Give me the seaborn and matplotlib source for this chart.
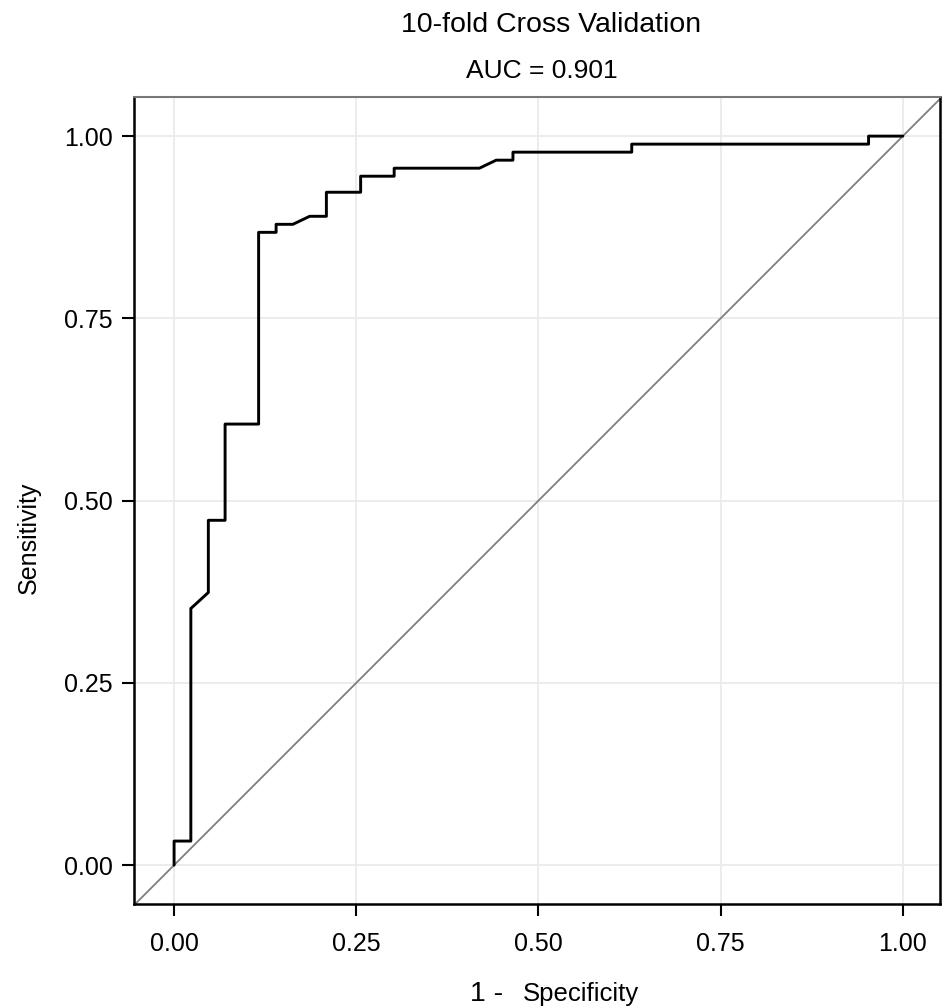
import pandas as pd
import seaborn as sns
import matplotlib.pyplot as plt

# ROC curve points (1 - specificity, sensitivity)
fpr = [0.000, 0.000, 0.023, 0.023, 0.047, 0.047, 0.070, 0.070, 0.116, 0.116,
       0.140, 0.140, 0.163, 0.186, 0.209, 0.209, 0.256, 0.256, 0.302, 0.302,
       0.419, 0.442, 0.465, 0.465, 0.628, 0.628, 0.953, 0.953, 1.000]
tpr = [0.000, 0.033, 0.033, 0.352, 0.374, 0.473, 0.473, 0.605, 0.605, 0.868,
       0.868, 0.879, 0.879, 0.890, 0.890, 0.923, 0.923, 0.945, 0.945, 0.956,
       0.956, 0.967, 0.967, 0.978, 0.978, 0.989, 0.989, 1.000, 1.000]
ticks = [0.00, 0.25, 0.50, 0.75, 1.00]
tick_labels = ["0.00", "0.25", "0.50", "0.75", "1.00"]

df = pd.DataFrame({"fpr": fpr, "tpr": tpr})

sns.set_style("white")
plt.rcParams['font.family'] = ['Liberation Sans', 'DejaVu Sans']
plt.rcParams['text.color'] = 'black'

fig = plt.figure(figsize=(9.45, 10.07), dpi=100)
ax = fig.add_axes([0.1418, 0.1018, 0.8529, 0.8014])

# reference diagonal across whole panel
ax.axline((0, 0), slope=1, color="#7f7f7f", lw=1.3, zorder=2)

sns.lineplot(data=df, x="fpr", y="tpr", sort=False, estimator=None,
             color="black", lw=2.1, ax=ax, zorder=3)

ax.set_xlim(-0.055, 1.051)
ax.set_ylim(-0.054, 1.053)
ax.set_xticks(ticks)
ax.set_yticks(ticks)
ax.set_xticklabels(tick_labels, fontsize=18)
ax.set_yticklabels(tick_labels, fontsize=18)
ax.grid(True, color="#ebebeb", lw=1.3)
ax.set_axisbelow(True)
ax.tick_params(axis="both", direction="out", length=8.6, width=1.5,
               colors="black", labelcolor="black", bottom=True, left=True)
ax.tick_params(axis="x", pad=11)
ax.tick_params(axis="y", pad=6.5)

for side in ["left", "bottom", "right"]:
    ax.spines[side].set_color("black")
    ax.spines[side].set_linewidth(1.8)
ax.spines["top"].set_color("#777777")
ax.spines["top"].set_linewidth(1.5)

ax.set_xlabel("")
ax.set_ylabel("")

fig.text(0.0307, 0.4657, "Sensitivity", fontsize=18, rotation=90,
         ha="center", va="center")
fig.text(0.5836, 0.9682, "10-fold Cross Validation", fontsize=20.5,
         ha="center", va="baseline")
fig.text(0.5735, 0.9225, "AUC = 0.901", fontsize=19,
         ha="center", va="baseline")
fig.text(0.4974, 0.0055, "1 -", fontsize=20.5, ha="left", va="baseline")
fig.text(0.5534, 0.0055, "Specificity", fontsize=18.5, ha="left", va="baseline")

fig.savefig("out.png", dpi=100)
